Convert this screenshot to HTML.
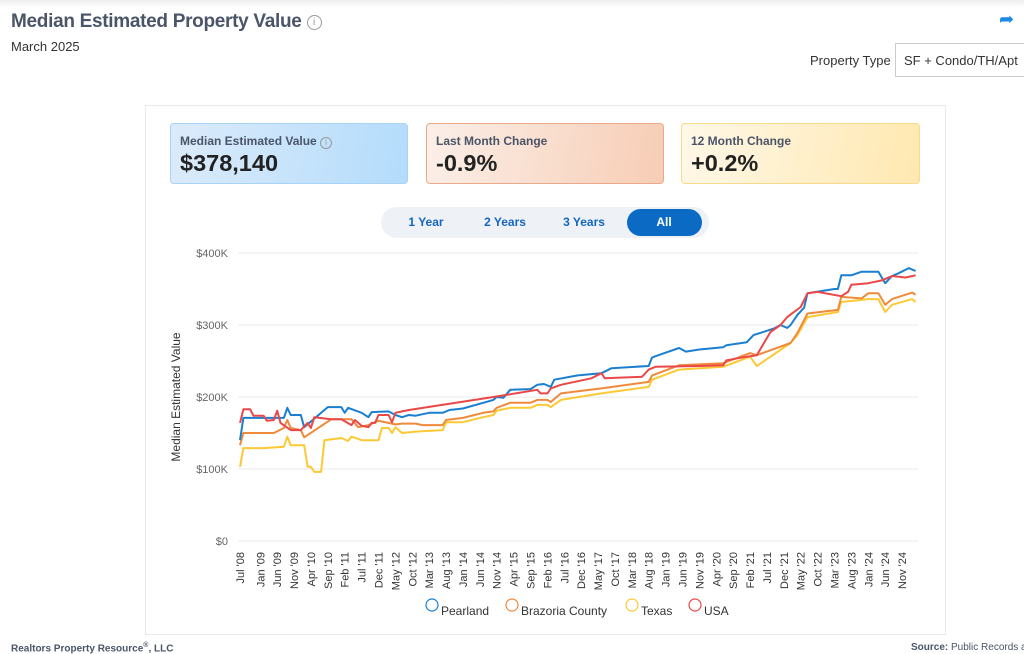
<!DOCTYPE html>
<html><head><meta charset="utf-8"><style>
body{margin:0;width:1024px;height:653px;overflow:hidden;background:#fff;font-family:"Liberation Sans",sans-serif;position:relative;color:#333}
.abs{position:absolute}
.card{position:absolute;top:123px;height:61px;border-radius:4px;box-sizing:border-box}
.card .l{position:absolute;left:9px;top:10px;font-size:12px;font-weight:bold;color:#4a5568}
.card .v{position:absolute;left:9px;top:26px;font-size:23.5px;font-weight:bold;color:#222}
.seg{position:absolute;top:215px;font-size:12px;color:#1565c0;font-weight:bold;transform:translateX(-50%)}
</style></head><body>
<div class="abs" style="left:0;top:0;width:1024px;height:8px;background:linear-gradient(#eee,#fff)"></div>
<div class="abs" style="left:11px;top:11px;font-size:19px;font-weight:bold;color:#4a5568;letter-spacing:-0.3px">Median Estimated Property Value <span style="display:inline-block;width:13px;height:13px;border:1.3px solid #999;border-radius:50%;font-size:10px;color:#999;text-align:center;line-height:13px;vertical-align:2px;font-weight:normal;letter-spacing:0">i</span></div>
<div class="abs" style="left:11px;top:39px;font-size:13px;color:#333">March 2025</div>
<div class="abs" style="left:999px;top:9px;font-size:18px;color:#1e88e5">➦</div>
<div class="abs" style="left:810px;top:53px;font-size:13px;color:#333">Property Type</div>
<div class="abs" style="left:895px;top:43px;width:140px;height:34px;border:1px solid #ccc;box-sizing:border-box;font-size:13px;padding:9px 0 0 8px">SF + Condo/TH/Apt</div>
<div class="abs" style="left:145px;top:105px;width:801px;height:530px;border:1px solid #e6e9ee;box-sizing:border-box"></div>
<div class="card" style="left:170px;width:238px;background:linear-gradient(100deg,#dcebfb,#b3dcfb);border:1px solid #a9d3f5"><div class="l">Median Estimated Value <span style="display:inline-block;width:10px;height:10px;border:1px solid #999;border-radius:50%;font-size:8px;text-align:center;line-height:10px;color:#999;font-weight:normal">i</span></div><div class="v">$378,140</div></div>
<div class="card" style="left:426px;width:238px;background:linear-gradient(100deg,#fbefe8,#f7cdb5);border:1px solid #eca88a"><div class="l">Last Month Change</div><div class="v">-0.9%</div></div>
<div class="card" style="left:681px;width:239px;background:linear-gradient(100deg,#fff8e8,#ffe8b0);border:1px solid #f9d98a"><div class="l">12 Month Change</div><div class="v">+0.2%</div></div>
<div class="abs" style="left:381px;top:207px;width:328px;height:31px;background:#eef2f7;border-radius:16px"></div>
<div class="abs" style="left:627px;top:209px;width:75px;height:27px;background:#0b6bc4;border-radius:14px"></div>
<div class="seg" style="left:426px">1 Year</div>
<div class="seg" style="left:505px">2 Years</div>
<div class="seg" style="left:584px">3 Years</div>
<div class="seg" style="left:664px;color:#fff">All</div>
<svg id="chart" class="abs" style="left:0;top:0" width="1024" height="653"></svg>
<div class="abs" style="left:11px;top:642px;font-size:10px;font-weight:bold;color:#4a5568">Realtors Property Resource<sup style="font-size:7px">®</sup>, LLC</div>
<div class="abs" style="left:911px;top:642px;font-size:10px;font-weight:bold;color:#4a5568;white-space:nowrap">Source: <span style="font-weight:normal">Public Records a</span></div>
<script>
const yTicks=[0,100,200,300,400];
const yTickLabels=['$0','$100K','$200K','$300K','$400K'];
const xTickMonths=[];for(let i=0;i<40;i++)xTickMonths.push(i===0?0:1+i*5);
const monthNames=['Jan','Feb','Mar','Apr','May','Jun','Jul','Aug','Sep','Oct','Nov','Dec'];
const seriesNames=['Pearland','Brazoria County','Texas','USA'];
const seriesColors=['#1a7fd0','#ef8a3c','#fcc935','#ea4848'];
const pearlandMonths=[0,1,13,14,15,18,19,26,30,31,32,36,38,39,44,46,48,50,52,56,60,62,66,72,75,76,78,80,86,88,90,92,93,100,107,110,121,122,125,130,132,136,143,144,150,152,158,160,162,163,165,167,168,176,177,178,181,184,189,191,193,195,198,200];
const pearlandValues=[140,171,171,185,175,175,158,186,186,178,185,178,172,179,180,175,172,175,174,178,178,182,184,192,196,200,199,210,211,217,218,214,224,230,233,240,243,255,260,268,263,266,269,272,276,286,295,300,296,300,314,324,344,350,350,369,369,374,374,358,368,372,379,375];
const brazoriaMonths=[0,1,10,13,14,15,18,19,27,33,35,38,41,46,48,52,54,60,61,66,72,75,76,80,86,88,91,92,95,107,121,122,130,143,151,153,163,165,168,177,178,184,186,189,191,193,199,200];
const brazoriaValues=[133,150,150,157,168,157,154,144,169,169,158,161,167,162,163,163,161,161,168,171,178,180,185,192,192,196,196,193,205,212,221,230,244,247,261,258,275,289,316,321,339,337,344,344,328,336,345,342];
const texasMonths=[0,1,7,13,14,15,19,20,21,22,24,25,30,32,33,36,41,42,44,45,46,48,52,60,61,66,72,75,76,80,86,88,91,92,95,107,121,122,130,143,151,153,163,165,168,177,178,186,189,191,193,199,200];
const texasValues=[103,129,129,131,145,133,133,103,103,96,96,140,143,139,145,140,140,157,157,150,158,150,152,154,165,165,172,175,181,185,185,189,189,186,196,205,214,224,238,242,256,243,275,286,311,318,332,336,336,318,328,336,332];
const usaMonths=[0,1,3,4,7,8,10,11,12,15,18,20,21,22,27,30,33,34,36,38,39,40,41,44,45,46,48,50,75,88,89,91,92,95,100,104,107,108,119,121,123,136,143,144,150,153,157,160,162,166,168,171,178,180,181,186,190,193,197,200];
const usaValues=[164,183,183,174,174,167,168,181,164,154,154,164,157,172,169,169,161,168,160,158,164,164,175,175,165,178,180,182,200,210,205,205,212,217,222,226,233,226,228,238,242,243,244,251,256,258,290,300,311,325,344,346,340,346,356,358,362,368,366,369];
const NS='http://www.w3.org/2000/svg';
const svg=document.getElementById('chart');
const xs=m=>240+m*3.378;
const ys=v=>541-v*0.72;
function mk(t,a){const e=document.createElementNS(NS,t);for(const k in a)e.setAttribute(k,a[k]);svg.appendChild(e);return e;}
yTicks.forEach((v,i)=>{
  const g=mk('line',{x1:238,x2:918,y1:ys(v),y2:ys(v),stroke:'#e8e8e8','stroke-width':1});
  
  
  const t=mk('text',{x:228,y:ys(v)+4,'text-anchor':'end','font-size':11,fill:'#666','font-family':'Liberation Sans, sans-serif'});
  t.textContent=yTickLabels[i];
  
  
});
xTickMonths.forEach(m=>{
  const mon=(6+m)%12,yr=2008+Math.floor((6+m)/12);
  const t=mk('text',{transform:`translate(${xs(m)+4},552) rotate(-90)`,'text-anchor':'end','font-size':11,fill:'#333','font-family':'Liberation Sans, sans-serif'});
  t.textContent=monthNames[mon]+" '"+String(yr%100).padStart(2,'0');
  
  
});
const yt=mk('text',{transform:'translate(180,397) rotate(-90)','text-anchor':'middle','font-size':12,fill:'#333','font-family':'Liberation Sans, sans-serif'});
yt.textContent='Median Estimated Value';


const allM=[pearlandMonths,brazoriaMonths,texasMonths,usaMonths];
const allV=[pearlandValues,brazoriaValues,texasValues,usaValues];
const order=[2,1,0,3];
order.forEach(i=>{
  const d=allM[i].map((m,j)=>(j?'L':'M')+xs(m).toFixed(1)+','+ys(allV[i][j]).toFixed(1)).join('');
  const p=mk('path',{d:d,fill:'none',stroke:seriesColors[i],'stroke-width':2,'stroke-linejoin':'round'});
  
  
});
const legX=[432,512,632,695];
seriesNames.forEach((n,i)=>{
  const c=mk('circle',{cx:legX[i],cy:605,r:6,fill:'none',stroke:seriesColors[i],'stroke-width':1.2});
  
  
  const t=mk('text',{x:legX[i]+9,y:615,'font-size':12,fill:'#333','font-family':'Liberation Sans, sans-serif'});
  t.textContent=n;
  
  
});
</script>
</body></html>
